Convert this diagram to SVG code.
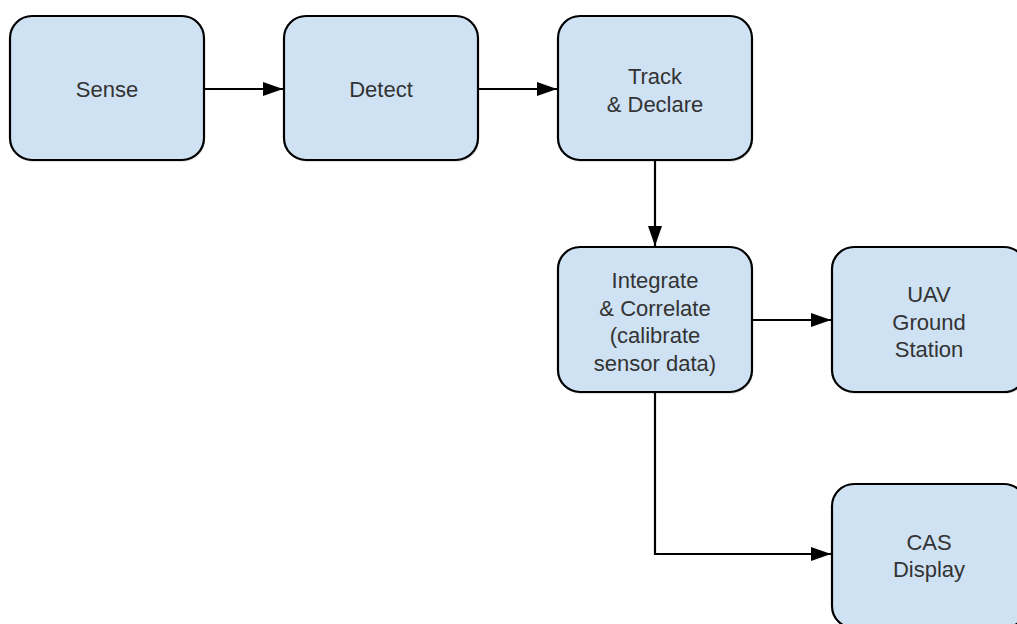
<svg xmlns="http://www.w3.org/2000/svg" width="1017" height="624" viewBox="0 0 1017 624">
<style>
.box{fill:#cfe2f3;stroke:#000;stroke-width:2.2}
.sh{fill:#000;opacity:0.12}
.lbl{font-family:"Liberation Sans",Arial,sans-serif;font-size:22px;fill:#333;text-anchor:middle}
.con{fill:none;stroke:#000;stroke-width:2.2}
</style>
<defs>
<marker id="arr" viewBox="0 0 20 14" refX="20" refY="7" markerWidth="20" markerHeight="14" markerUnits="userSpaceOnUse" orient="auto">
<path d="M0,0 L20,7 L0,14 Z" fill="#000"/>
</marker>
</defs>
<rect width="1017" height="624" fill="#fff"/>
<g id="connectors">
<path class="con" d="M204,89 H283" marker-end="url(#arr)"/>
<path class="con" d="M478,89 H557" marker-end="url(#arr)"/>
<path class="con" d="M655,160 V246" marker-end="url(#arr)"/>
<path class="con" d="M752,320 H831" marker-end="url(#arr)"/>
<path class="con" d="M655,392 V554 H831" marker-end="url(#arr)"/>
</g>
<g id="sense">
<rect class="sh" x="11" y="18" width="194" height="144" rx="22"/>
<rect class="box" x="10" y="16" width="194" height="144" rx="22"/>
<text class="lbl" x="107" y="97">Sense</text>
</g>
<g id="detect">
<rect class="sh" x="285" y="18" width="194" height="144" rx="22"/>
<rect class="box" x="284" y="16" width="194" height="144" rx="22"/>
<text class="lbl" x="381" y="97">Detect</text>
</g>
<g id="track">
<rect class="sh" x="559" y="18" width="194" height="144" rx="22"/>
<rect class="box" x="558" y="16" width="194" height="144" rx="22"/>
<text class="lbl" x="655" y="84">Track</text>
<text class="lbl" x="655" y="112">&amp; Declare</text>
</g>
<g id="integrate">
<rect class="sh" x="559" y="249" width="194" height="145" rx="22"/>
<rect class="box" x="558" y="247" width="194" height="145" rx="22"/>
<text class="lbl" x="655" y="288">Integrate</text>
<text class="lbl" x="655" y="315.5">&amp; Correlate</text>
<text class="lbl" x="655" y="343">(calibrate</text>
<text class="lbl" x="655" y="370.5">sensor data)</text>
</g>
<g id="uav">
<rect class="sh" x="833" y="249" width="194" height="145" rx="22"/>
<rect class="box" x="832" y="247" width="194" height="145" rx="22"/>
<text class="lbl" x="929" y="302">UAV</text>
<text class="lbl" x="929" y="329.5">Ground</text>
<text class="lbl" x="929" y="357">Station</text>
</g>
<g id="cas">
<rect class="sh" x="833" y="486" width="194" height="144" rx="22"/>
<rect class="box" x="832" y="484" width="194" height="144" rx="22"/>
<text class="lbl" x="929" y="550">CAS</text>
<text class="lbl" x="929" y="577">Display</text>
</g>
</svg>
